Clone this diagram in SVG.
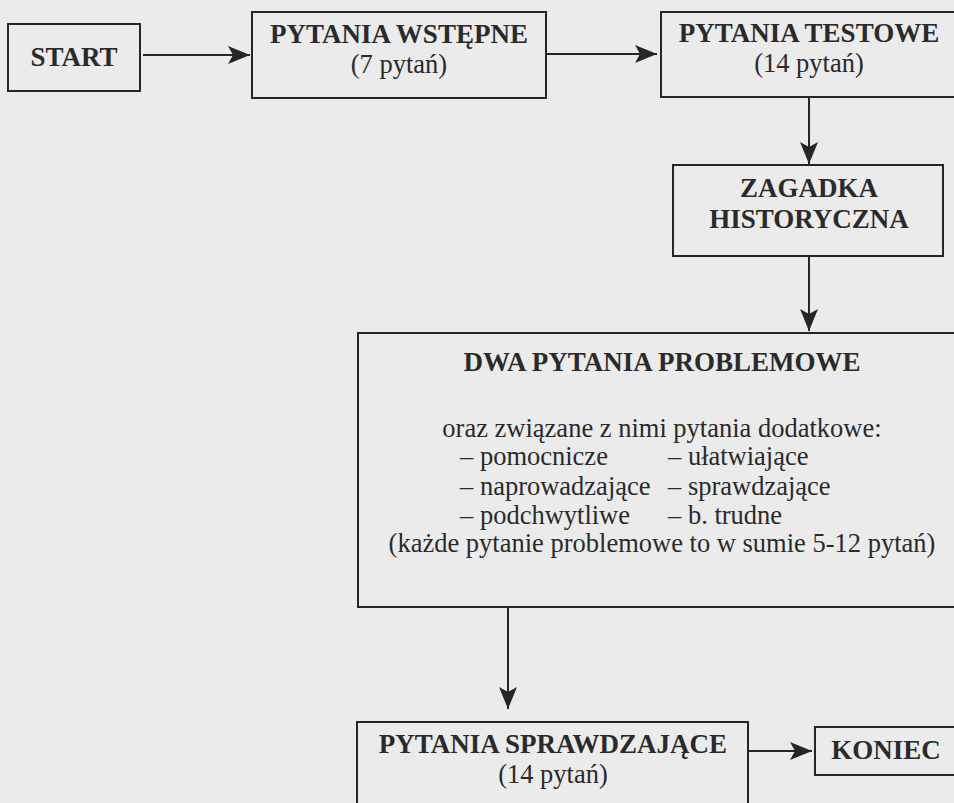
<svg xmlns="http://www.w3.org/2000/svg" width="954" height="803" viewBox="0 0 954 803">
  <style>
    .box { fill: none; stroke: #262626; stroke-width: 2; }
    .b { font-family: "Liberation Serif", "Times New Roman", serif; font-weight: bold; font-size: 27px; fill: #2a2a2a; }
    .r { font-family: "Liberation Serif", "Times New Roman", serif; font-size: 26.5px; fill: #2a2a2a; }
    .c { text-anchor: middle; }
    .conn { stroke: #262626; stroke-width: 2; fill: none; marker-end: url(#ah); }
  </style>
  <defs>
    <marker id="ah" markerUnits="userSpaceOnUse" markerWidth="24" markerHeight="22" refX="22" refY="10" orient="auto">
      <path d="M0,1 L22,10 L0,19 L5,10 z" fill="#262626"/>
    </marker>
  </defs>
  <rect x="0" y="0" width="954" height="803" fill="#ebebeb"/>

  <g id="start">
    <rect class="box" x="8" y="24" width="132" height="67"/>
    <text class="b c" x="74" y="66">START</text>
  </g>
  <g id="wstepne">
    <rect class="box" x="252" y="12" width="294" height="86"/>
    <text class="b c" x="399" y="43">PYTANIA WSTĘPNE</text>
    <text class="r c" x="399" y="73">(7 pytań)</text>
  </g>
  <g id="testowe">
    <rect class="box" x="661" y="12" width="300" height="85"/>
    <text class="b c" x="809" y="42">PYTANIA TESTOWE</text>
    <text class="r c" x="809" y="72">(14 pytań)</text>
  </g>
  <g id="zagadka">
    <rect class="box" x="673" y="165" width="270" height="91"/>
    <text class="b c" x="809" y="197">ZAGADKA</text>
    <text class="b c" x="809" y="228">HISTORYCZNA</text>
  </g>
  <g id="problemowe">
    <rect class="box" x="358" y="333" width="610" height="274"/>
    <text class="b c" x="662" y="371">DWA PYTANIA PROBLEMOWE</text>
    <text class="r c" x="662" y="437">oraz związane z nimi pytania dodatkowe:</text>
    <text class="r" x="460" y="465">– pomocnicze</text>
    <text class="r" x="668" y="465">– ułatwiające</text>
    <text class="r" x="460" y="495">– naprowadzające</text>
    <text class="r" x="668" y="495">– sprawdzające</text>
    <text class="r" x="460" y="524">– podchwytliwe</text>
    <text class="r" x="668" y="524">– b. trudne</text>
    <text class="r c" x="662" y="552">(każde pytanie problemowe to w sumie 5-12 pytań)</text>
  </g>
  <g id="sprawdzajace">
    <rect class="box" x="357" y="722" width="391" height="100"/>
    <text class="b c" x="553" y="753">PYTANIA SPRAWDZAJĄCE</text>
    <text class="r c" x="553" y="783">(14 pytań)</text>
  </g>
  <g id="koniec">
    <rect class="box" x="815" y="727" width="160" height="48"/>
    <text class="b c" x="886" y="759">KONIEC</text>
  </g>

  <g id="connectors">
    <line class="conn" x1="143" y1="55" x2="250" y2="55"/>
    <line class="conn" x1="546" y1="54" x2="657" y2="54"/>
    <line class="conn" x1="809" y1="97" x2="809" y2="164"/>
    <line class="conn" x1="809" y1="256" x2="809" y2="331"/>
    <line class="conn" x1="508" y1="607" x2="508" y2="709"/>
    <line class="conn" x1="748" y1="751" x2="812" y2="751"/>
  </g>
</svg>
